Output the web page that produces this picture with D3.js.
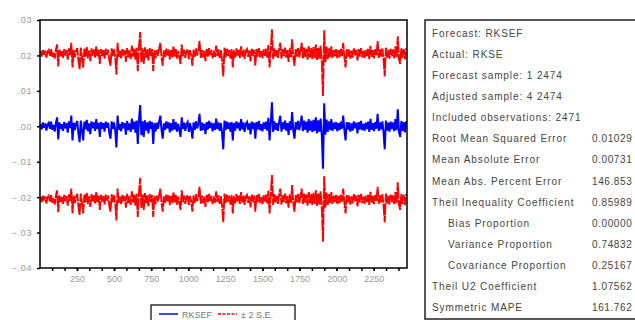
<!DOCTYPE html>
<html>
<head>
<meta charset="utf-8">
<script src="https://cdn.jsdelivr.net/npm/d3@7"></script>
<style>
  body { margin: 0; background: #fff; }
  svg { display: block; font-family: "Liberation Sans", Arial, sans-serif; }
</style>
</head>
<body>
<div id="chart"></div>
<script>
// forecast RKSEF in thousandths, one value every 8 obs from obs 4
var obsStart = 4, obsStep = 8;
var rksefMilli = [
  0.6, -0.9, 1.1, -0.4, 0.8, -1.2, 0.5, 1.0, -0.7, 1.3,
  -1.0, 0.4, -1.5, 0.9, 2.5, -3.7, 1.1, -0.8, 0.6, -1.3,
  1.2, -0.6, 0.9, -1.8, 1.4, -0.5, 3.0, -4.0, 1.0, -1.1,
  0.7, 1.5, -2.0, -4.5, 1.6, -1.2, -4.0, 1.3, -0.9, 1.8,
  -1.4, 0.8, -2.2, 1.4, -0.6, 1.1, -1.3, 2.0, -0.8, 1.0,
  -3.0, 1.2, -0.7, 0.9, -1.5, 1.3, -0.4, 1.0, -1.9, -3.5,
  1.4, -0.8, 1.1, -1.2, -6.0, 3.0, -1.0, 0.7, -1.4, 1.2,
  -0.6, 0.9, -2.4, 1.5, -1.1, 0.8, -1.6, 2.2, -0.9, 1.3,
  -1.8, 1.6, -5.0, 1.9, 6.0, -2.5, 1.4, -3.0, 1.7, -1.2,
  1.1, -2.0, 1.5, -0.8, 1.2, -5.0, 0.9, -1.4, 1.0, -0.7,
  1.3, 3.0, -1.1, -3.5, 0.8, -1.0, 1.4, -0.6, 1.1, -1.7,
  0.9, -1.2, 2.0, -0.9, 1.2, -1.5, 0.7, -1.1, -3.0, 2.5,
  -0.8, 1.0, -1.3, 0.6, 1.2, -1.6, 0.9, -0.7, -3.5, 1.1,
  -1.0, 1.4, -0.6, 0.8, 3.5, -1.3, 1.0, -1.1, 0.7, -2.2,
  1.2, -0.9, 1.5, -0.5, 1.0, -1.4, 0.8, -1.0, 2.2, -0.8,
  1.1, -1.3, 0.9, -2.0, -6.5, 1.6, -1.1, 1.3, -0.7, 1.0,
  -1.5, 1.2, -4.0, 0.9, -1.2, 1.4, -0.6, 1.0, -1.3, 2.0,
  -0.9, 1.1, -1.6, 0.7, 1.2, -1.0, 0.8, -2.3, 1.3, -0.8,
  1.0, -3.5, 1.2, -0.9, 1.5, -1.1, 0.6, -1.4, 1.1, -0.7,
  1.3, -1.2, 2.4, -4.0, 1.0, 6.8, -1.6, 1.4, -1.0, 0.9,
  -1.3, 1.2, 3.0, -1.5, 1.1, -0.8, 1.6, -1.2, 0.9, -2.4,
  1.4, -1.0, 4.0, -1.3, -3.5, 1.2, -0.9, 1.5, -1.1, 0.8,
  3.0, -1.4, 1.6, -1.0, 1.3, -1.8, 2.0, -1.2, 1.5, -1.6,
  1.8, -1.3, 2.5, -2.0, 1.7, -1.5, 2.2, -2.6, -12.0, 6.5,
  -2.4, 1.9, -1.6, 1.4, -1.1, 2.0, -1.3, 1.0, -0.8, 1.2,
  -1.4, 0.9, -1.1, 1.3, -0.7, 3.0, -1.0, -4.0, 1.2, -0.9,
  1.1, -1.5, 0.8, -1.2, 1.4, -0.6, 1.0, -2.0, 1.2, -0.9,
  1.5, -1.1, 0.7, -1.3, 1.0, -0.8, 1.3, -1.6, 2.1, -1.0,
  0.9, -1.4, 1.2, -0.7, 3.5, -1.3, 1.1, -0.9, 1.4, -1.8,
  -6.5, 1.6, -1.2, 1.0, -1.5, 1.3, -0.8, 1.1, -1.4, 2.0,
  -1.1, 4.8, -1.6, -3.0, 1.5, -1.3, 1.2, -1.7, 1.4
];
var forecastSE = 0.01029;

var yTicks = [-0.04, -0.03, -0.02, -0.01, 0, 0.01, 0.02, 0.03];
var xTickLabels = [250, 500, 750, 1000, 1250, 1500, 1750, 2000, 2250];

var statLabels = ["Forecast: RKSEF", "Actual: RKSE", "Forecast sample: 1 2474",
  "Adjusted sample: 4 2474", "Included observations: 2471",
  "Root Mean Squared Error", "Mean Absolute Error", "Mean Abs. Percent Error",
  "Theil Inequality Coefficient", "Bias Proportion", "Variance Proportion",
  "Covariance Proportion", "Theil U2 Coefficient", "Symmetric MAPE"];
var statValues = ["", "", "", "", "", "0.01029", "0.00731", "146.853", "0.85989",
  "0.00000", "0.74832", "0.25167", "1.07562", "161.762"];
var statIndent = [0, 0, 0, 0, 0, 0, 0, 0, 0, 1, 1, 1, 0, 0];

var W = 635, H = 320;
var svg = d3.select("#chart").append("svg").attr("width", W).attr("height", H);

var pLeft = 40, pRight = 407, pTop = 20, pBottom = 268;
var x = d3.scaleLinear().domain([1, 2474]).range([pLeft, pRight]);
var y = d3.scaleLinear().domain([-0.04, 0.03]).range([pBottom, pTop]);

var pts = rksefMilli.map(function(v, i) { return { obs: obsStart + i * obsStep, v: v / 1000 }; });

var line = function(off) {
  return d3.line().x(function(d) { return x(d.obs); }).y(function(d) { return y(d.v + off); });
};

svg.append("path").datum(pts).attr("d", line(2 * forecastSE))
  .attr("fill", "none").attr("stroke", "#ff0000").attr("stroke-width", 1.9)
  .attr("stroke-dasharray", "12,1");
svg.append("path").datum(pts).attr("d", line(-2 * forecastSE))
  .attr("fill", "none").attr("stroke", "#ff0000").attr("stroke-width", 1.9)
  .attr("stroke-dasharray", "12,1");
svg.append("path").datum(pts).attr("d", line(0))
  .attr("fill", "none").attr("stroke", "#0000ff").attr("stroke-width", 2);

// frame
svg.append("rect").attr("x", pLeft).attr("y", pTop).attr("width", pRight - pLeft).attr("height", pBottom - pTop)
  .attr("fill", "none").attr("stroke", "#000").attr("stroke-width", 1.5);

// y axis
var yaxis = d3.axisLeft(y).tickValues(yTicks).tickSize(3).tickPadding(5)
  .tickFormat(function(d) { return d3.format(".2f")(d).replace("0.", ".").replace("-.00", ".00"); });
var gy = svg.append("g").attr("transform", "translate(" + pLeft + ",0)").call(yaxis);
gy.select(".domain").remove();
gy.selectAll("line").attr("stroke", "#000").attr("stroke-width", 1.5);
gy.selectAll("text").attr("fill", "#999").style("font-size", "9px").style("letter-spacing", "0.6px");

// x axis
var minorTicks = d3.range(1, 30).map(function(i) { return Math.round(i * 250 / 3); }).filter(function(v) { return v < 2474; });
var gxm = svg.append("g").attr("transform", "translate(0," + pBottom + ")")
  .call(d3.axisBottom(x).tickValues(minorTicks).tickSize(3).tickFormat(""));
gxm.select(".domain").remove();
gxm.selectAll("line").attr("stroke", "#000").attr("stroke-width", 1.5);
var gx = svg.append("g").attr("transform", "translate(0," + pBottom + ")")
  .call(d3.axisBottom(x).tickValues(xTickLabels).tickSize(3).tickPadding(5).tickFormat(d3.format("d")));
gx.select(".domain").remove();
gx.selectAll("line").attr("stroke", "#000").attr("stroke-width", 1.5);
gx.selectAll("text").attr("fill", "#999").style("font-size", "9px");

// legend
var lg = svg.append("g");
lg.append("rect").attr("x", 151).attr("y", 305).attr("width", 144).attr("height", 17)
  .attr("fill", "#fff").attr("stroke", "#000").attr("stroke-width", 1.2);
lg.append("line").attr("x1", 159).attr("x2", 178).attr("y1", 314).attr("y2", 314)
  .attr("stroke", "#0000ff").attr("stroke-width", 1.5);
lg.append("text").attr("x", 182).attr("y", 317.5).text("RKSEF").attr("fill", "#777").style("font-size", "9px");
lg.append("line").attr("x1", 218).attr("x2", 237).attr("y1", 314).attr("y2", 314)
  .attr("stroke", "#ff0000").attr("stroke-width", 1.5).attr("stroke-dasharray", "3,1.5");
lg.append("text").attr("x", 241).attr("y", 317.5).text("± 2 S.E.").attr("fill", "#777").style("font-size", "9px");

// statistics box
var tb = svg.append("g");
tb.append("rect").attr("x", 425).attr("y", 20).attr("width", 230).attr("height", 299)
  .attr("fill", "#fff").attr("stroke", "#222").attr("stroke-width", 1.5);
statLabels.forEach(function(s, i) {
  var yy = 36.5 + i * 21.15;
  tb.append("text").attr("x", 432 + statIndent[i] * 16).attr("y", yy).text(s)
    .attr("fill", "#444").style("font-size", "10px").style("letter-spacing", "0.9px");
  if (statValues[i]) {
    tb.append("text").attr("x", 592).attr("y", yy).text(statValues[i])
      .attr("fill", "#444").style("font-size", "10px").style("letter-spacing", "0.6px");
  }
});
</script>
</body>
</html>
